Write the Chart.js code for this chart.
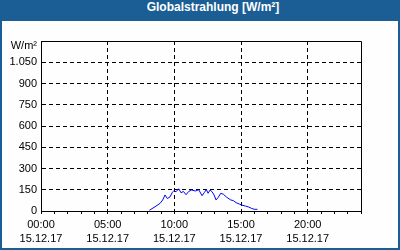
<!DOCTYPE html>
<html><head><meta charset="utf-8">
<script src="https://cdn.jsdelivr.net/npm/chart.js@4/dist/chart.umd.min.js"></script>
<style>
html,body{margin:0;padding:0;}
#frame{position:relative;width:400px;height:250px;background:#1B5E95;overflow:hidden;}
#title{position:absolute;left:26px;top:0;width:374px;height:21px;line-height:20px;text-align:center;color:#fff;font:bold 12px "Liberation Sans",Arial,sans-serif;}
#wrap{position:absolute;left:2px;top:21px;width:396px;height:227px;background:#fdfefd;}
</style></head>
<body>
<div id="frame"><div id="title">Globalstrahlung [W/m²]</div><div id="wrap"><canvas id="c"></canvas></div></div>
<script>
const dateLabel = '15.12.17';
const hourLabels = ['00:00','05:00','10:00','15:00','20:00'];
const unitLabel = 'W/m²';
const times  = [8.13,8.55,8.93,9.13,9.3,9.48,9.68,9.85,9.95,10.13,10.33,10.5,10.68,10.88,11.08,11.3,11.58,11.83,12.08,12.25,12.4,12.53,12.68,12.83,12.98,13.13,13.3,13.48,13.68,13.93,14.23,14.43,14.63,14.88,15.05,15.33,15.58,15.8,16.0,16.23];
const values = [5,30,54,78,113,88,100,132,141,136,157,129,138,115,138,148,141,150,108,130,152,125,148,136,113,78,97,125,118,97,78,73,59,49,42,35,28,18,12,12];

const font = {family:'"Liberation Sans", Arial, sans-serif', size:11};
function fmt(v){ return v>=1000 ? Math.floor(v/1000)+'.'+String(v%1000).padStart(3,'0') : String(v); }

const frame = {
  id:'frame',
  afterDraw(chart){
    const {ctx, chartArea:a} = chart;
    ctx.save();
    ctx.strokeStyle='#000'; ctx.lineWidth=1; ctx.setLineDash([]);
    const l=Math.round(a.left)+0.5, t=Math.round(a.top)+0.5, r=Math.round(a.right)+0.5, b=Math.round(a.bottom)+0.5;
    ctx.beginPath();
    ctx.moveTo(l,b); ctx.lineTo(l,t); ctx.lineTo(r,t); ctx.lineTo(r,b);
    ctx.stroke();
    ctx.fillStyle='#000';
    ctx.font = '11px "Liberation Sans", Arial, sans-serif';
    ctx.textAlign='right'; ctx.textBaseline='middle';
    ctx.fillText(unitLabel, a.left-4, a.top+5);
    ctx.restore();
  }
};

new Chart(document.getElementById('c'), {
  type:'line',
  data:{datasets:[{data: times.map((t,i)=>({x:t,y:values[i]})), borderColor:'#0000ff', borderWidth:1, pointRadius:0, tension:0, fill:false}]},
  options:{
    responsive:true, maintainAspectRatio:false, animation:false,
    layout:{padding:{top:20,right:37,left:0,bottom:0}},
    plugins:{legend:{display:false}, tooltip:{enabled:false}},
    scales:{
      x:{type:'linear', min:0, max:24,
        afterFit(s){ s.height=37; },
        border:{display:true,color:'#000',width:1,dash:[4,3]},
        grid:{
          color:(c)=> (c.tick && c.tick.value%5===0 && c.tick.value>0 && c.tick.value<24) ? '#000' : 'rgba(0,0,0,0)',
          tickColor:'#000', tickLength:3, tickBorderDash:[], drawTicks:true, lineWidth:1
        },
        ticks:{stepSize:1, autoSkip:false, maxRotation:0, minRotation:0, padding:4, color:'#000',
          font:{...font, lineHeight:1.27},
          callback:(v)=> (v%5===0 && v<24) ? [hourLabels[v/5], dateLabel] : ''
        }
      },
      y:{min:0, max:1200,
        afterFit(s){ s.width=39; },
        border:{display:true,color:'#000',width:1,dash:[4,3]},
        grid:{
          color:(c)=> (c.tick && c.tick.value>0 && c.tick.value<1200) ? '#000' : 'rgba(0,0,0,0)',
          drawTicks:false, lineWidth:1
        },
        ticks:{stepSize:150, padding:4, color:'#000', font:font,
          callback:(v)=> v===1200 ? '' : fmt(v)
        }
      }
    }
  },
  plugins:[frame]
});
</script>
</body></html>
